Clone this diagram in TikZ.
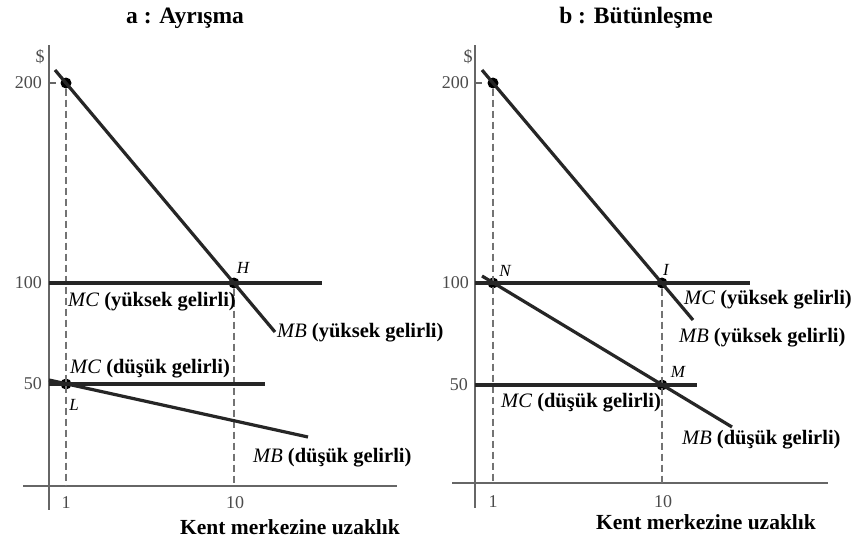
\documentclass[tikz,border=0pt]{standalone}
\usepackage{fontspec}
\setmainfont{Liberation Serif}
\begin{document}
\begin{tikzpicture}[x=1pt,y=-1pt,
 curve/.style={line width=3.2pt, black!85},
 axis/.style={line width=2.2pt, black!60},
 guide/.style={line width=1.6pt, black!55, dash pattern=on 7pt off 4pt},
 dot/.style={circle, fill=black, inner sep=0pt, minimum size=11pt},
 lbl/.style={font=\fontsize{20.5}{22}\selectfont\bfseries, inner sep=0pt, anchor=west},
 num/.style={font=\fontsize{18}{20}\selectfont, text=black!70, inner sep=0pt},
 ptl/.style={font=\fontsize{17}{19}\selectfont\itshape, inner sep=0pt},
 ttl/.style={font=\fontsize{23.5}{26}\selectfont\bfseries, inner sep=0pt},
 xlab/.style={font=\fontsize{21.5}{24}\selectfont\bfseries, inner sep=0pt}]
\useasboundingbox[fill=white] (0,0) rectangle (851,541);

% ---------- panel a ----------
\node[ttl] (ta) at (185,18) {a : Ayrışma};
\coordinate (ayt) at (49,45); \coordinate (ayb) at (49,510);
\coordinate (axl) at (23,486); \coordinate (axr) at (397,486);
\draw[axis] (ayt) -- (ayb);
\draw[axis] (axl) -- (axr);
\coordinate (ab1) at (66,486); \coordinate (ab10) at (234,486);
\coordinate (amh0) at (55,70); \coordinate (amh1) at (275,332);
\coordinate (ach0) at (49,283); \coordinate (ach1) at (322,283);
\coordinate (acl0) at (49,384); \coordinate (acl1) at (265,384);
\coordinate (aml0) at (49,380); \coordinate (aml1) at (308,437);
\node[dot] (a200) at (66,83) {};
\node[dot] (aH) at (234,283) {};
\node[dot] (aL) at (66,384) {};
\draw[guide] (a200) -- (ab1);
\draw[guide] (aH) -- (ab10);
\draw[curve] (amh0) -- (amh1);
\draw[curve] (ach0) -- (ach1);
\draw[curve] (acl0) -- (acl1);
\draw[curve] (aml0) -- (aml1);
\coordinate (at200) at (56,83);
\draw[axis] (ayt |- a200) -- (at200);
\node[num] (ad) at (40,57) {\$};
\node[num, anchor=east] (an200) at (42,83) {200};
\node[num, anchor=east] (an100) at (42,283) {100};
\node[num, anchor=east] (an50) at (42,384) {50};
\node[num] (an1) at (66,503) {1};
\node[num] (an10) at (235,503) {10};
\node[xlab] (axlab) at (290,527) {Kent merkezine uzaklık};
\node[ptl] (aHl) at (243,268) {H};
\node[ptl] (aLl) at (74,405) {L};
\node[lbl] (amcy) at (68,302) {\textmd{\textit{MC}} (yüksek gelirli)};
\node[lbl] (amby) at (277,333) {\textmd{\textit{MB}} (yüksek gelirli)};
\node[lbl] (amcd) at (70,369) {\textmd{\textit{MC}} (düşük gelirli)};
\node[lbl] (ambd) at (253,458) {\textmd{\textit{MB}} (düşük gelirli)};

% ---------- panel b ----------
\node[ttl] (tb) at (636,18) {b : Bütünleşme};
\coordinate (byt) at (475,45); \coordinate (byb) at (475,508);
\coordinate (bxl) at (452,483); \coordinate (bxr) at (828,483);
\draw[axis] (byt) -- (byb);
\draw[axis] (bxl) -- (bxr);
\coordinate (bb1) at (493,483); \coordinate (bb10) at (662,483);
\coordinate (bmh0) at (482,70); \coordinate (bmh1) at (693,320);
\coordinate (bch0) at (475,283); \coordinate (bch1) at (750,283);
\coordinate (bcl0) at (475,385); \coordinate (bcl1) at (697,385);
\coordinate (bml0) at (482,276); \coordinate (bml1) at (732,427);
\node[dot] (b200) at (493,83) {};
\node[dot] (bN) at (493,283) {};
\node[dot] (bI) at (662,283) {};
\node[dot] (bM) at (662,385) {};
\draw[guide] (b200) -- (bb1);
\draw[guide] (bI) -- (bb10);
\draw[curve] (bmh0) -- (bmh1);
\draw[curve] (bch0) -- (bch1);
\draw[curve] (bcl0) -- (bcl1);
\draw[curve] (bml0) -- (bml1);
\coordinate (bt200) at (482,83);
\draw[axis] (byt |- b200) -- (bt200);
\node[num] (bd) at (468,57) {\$};
\node[num, anchor=east] (bn200) at (469,83) {200};
\node[num, anchor=east] (bn100) at (469,283) {100};
\node[num, anchor=east] (bn50) at (468,385) {50};
\node[num] (bn1) at (493,502) {1};
\node[num] (bn10) at (663,502) {10};
\node[xlab] (bxlab) at (706,522) {Kent merkezine uzaklık};
\node[ptl] (bNl) at (505,271) {N};
\node[ptl] (bIl) at (666,270) {I};
\node[ptl] (bMl) at (678,372) {M};
\node[lbl] (bmcy) at (684,300) {\textmd{\textit{MC}} (yüksek gelirli)};
\node[lbl] (bmby) at (679,338) {\textmd{\textit{MB}} (yüksek gelirli)};
\node[lbl] (bmcd) at (501,403) {\textmd{\textit{MC}} (düşük gelirli)};
\node[lbl] (bmbd) at (682,440) {\textmd{\textit{MB}} (düşük gelirli)};
\end{tikzpicture}
\end{document}
